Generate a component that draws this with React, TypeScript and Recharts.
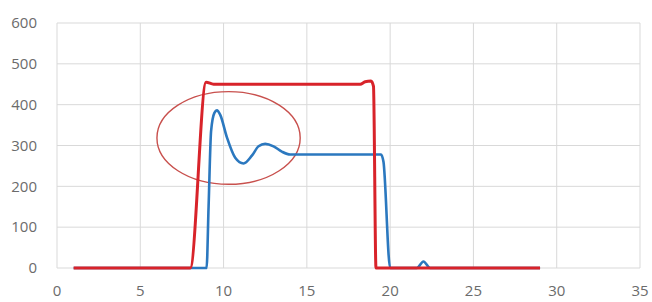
import { LineChart, Line, XAxis, YAxis, CartesianGrid, ReferenceArea } from "recharts";

// tick labels
const xTicks = [0, 5, 10, 15, 20, 25, 30, 35];
const yTicks = [0, 100, 200, 300, 400, 500, 600];

// red trace (command)
const redX = [1, 8.0, 8.95, 9.4, 18.2, 18.5, 18.85, 19.0, 19.15, 29];
const redY = [0, 0, 455, 450, 450, 456, 458, 445, 0, 0];

// blue trace (response)
const blueX = [1, 8.98, 9.1, 9.25, 9.45, 9.6, 9.8, 10.2, 10.7, 11.2, 11.7, 12.1, 12.5, 13.0, 13.5, 14.0, 19.45, 19.6, 20.0, 21.6, 22.0, 22.4, 29];
const blueY = [0, 0, 150, 335, 380, 386, 375, 320, 270, 256, 275, 298, 304, 298, 285, 278, 278, 260, 0, 0, 16, 0, 0];

// annotation ellipse bounds
const ringX = [6.0, 14.6];
const ringY = [205, 432];

const red = redX.map((x, i) => ({ x, v: redY[i] }));
const blue = blueX.map((x, i) => ({ x, v: blueY[i] }));

const tick = { fontSize: 15, fill: "#6b6b6b", fontFamily: "Open Sans" };

function Ring(props: any) {
  const { x, y, width, height } = props;
  return (
    <ellipse
      cx={x + width / 2}
      cy={y + height / 2}
      rx={width / 2}
      ry={height / 2}
      fill="none"
      stroke="#c8504d"
      strokeWidth={1.4}
    />
  );
}

export default function App() {
  return (
    <div style={{ width: 652, height: 302, background: "#fff" }}>
      <style>{`body{margin:0}`}</style>
      <LineChart width={652} height={302} margin={{ top: 23, right: 12, left: 0, bottom: 0 }}>
        <CartesianGrid stroke="#d9d9d9" />
        <XAxis
          type="number"
          dataKey="x"
          domain={[0, 35]}
          ticks={xTicks}
          tick={tick}
          tickLine={false}
          axisLine={false}
          tickSize={0}
          tickMargin={17}
          height={34}
          allowDataOverflow
        />
        <YAxis
          type="number"
          domain={[0, 600]}
          ticks={yTicks}
          tick={tick}
          tickLine={false}
          axisLine={false}
          tickSize={0}
          tickMargin={20}
          width={57}
        />
        <ReferenceArea x1={ringX[0]} x2={ringX[1]} y1={ringY[0]} y2={ringY[1]} shape={Ring} />
        <Line
          data={blue}
          dataKey="v"
          type="monotone"
          stroke="#2b78bf"
          strokeWidth={2.6}
          dot={false}
          isAnimationActive={false}
        />
        <Line
          data={red}
          dataKey="v"
          type="monotone"
          stroke="#d8232a"
          strokeWidth={3}
          dot={false}
          isAnimationActive={false}
        />
      </LineChart>
    </div>
  );
}
